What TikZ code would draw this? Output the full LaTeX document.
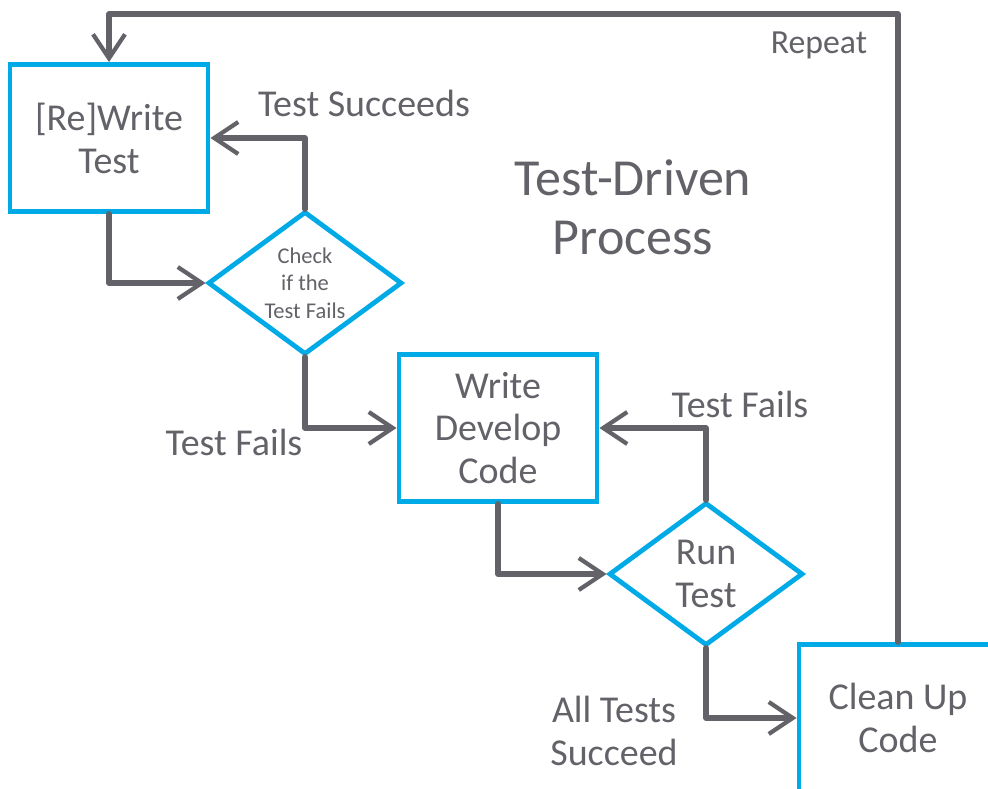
\documentclass[tikz,border=0pt]{standalone}
\usepackage{fontspec}
\setmainfont{Carlito}
\usepackage{tikz}
\usetikzlibrary{arrows.meta,positioning,shapes.geometric}
\definecolor{BoxBlue}{RGB}{0,170,230}
\definecolor{InkGray}{RGB}{98,98,104}

\tikzset{
  stepbox/.style={draw=BoxBlue, line width=3.4pt, fill=white, text=InkGray,
    minimum width=4.95cm, minimum height=3.675cm, align=center,
    font=\fontsize{27}{30.5}\selectfont},
  decision/.style={diamond, draw=BoxBlue, line width=3.4pt, fill=white, text=InkGray,
    aspect=1.36, inner sep=0pt, minimum width=4.85cm, minimum height=3.575cm,
    align=center},
  flow/.style={draw=InkGray, line width=4pt, line cap=round, line join=round},
  arrowflow/.style={flow, -{Straight Barb[length=6mm, width=8mm, line width=3pt]}},
  tag/.style={text=InkGray, align=center, font=\fontsize{27}{31}\selectfont}
}

\begin{document}
\begin{tikzpicture}[x=0.025cm, y=-0.025cm]
      \useasboundingbox (0,0) rectangle (988,789);
      \clip (0,0) rectangle (988,789);
      % steps of the process
      \node[stepbox] (rwt) at (109,138) {[Re]Write\\Test};
      \node[decision, font=\fontsize{16}{19.5}\selectfont] (chk) at (305,283) {Check\\if the\\Test Fails};
      \node[stepbox] (wdc) at (498,428) {Write\\Develop\\Code};
      \node[decision, font=\fontsize{27}{30}\selectfont] (run) at (706,574) {Run\\Test};
      \node[stepbox] (cuc) at (898,718) {Clean Up\\Code};
      \coordinate (loop) at (898,14);
      % connectors
      \draw[arrowflow] (rwt.south) |- (chk.west);
      \draw[arrowflow] (chk.north) |- (rwt.east);
      \draw[arrowflow] (chk.south) |- (wdc.west);
      \draw[arrowflow] (wdc.south) |- (run.west);
      \draw[arrowflow] (run.north) |- (wdc.east);
      \draw[arrowflow] (run.south) |- (cuc.west);
      \draw[arrowflow] (cuc.north) -- (loop) -| (rwt.north);
      % labels
      \node[tag] (succ) at (364,103) {Test Succeeds};
      \node[tag] (fail1) at (234,442) {Test Fails};
      \node[tag] (fail2) at (740,404) {Test Fails};
      \node[tag] (alls) at (614,731) {All Tests\\Succeed};
      \node[tag, font=\fontsize{24}{28}\selectfont] (rep) at (819,45) {Repeat};
      \node[tag, font=\fontsize{37}{42}\selectfont] (title) at (633,207) {Test-Driven\\Process};
    \end{tikzpicture}
\end{document}
